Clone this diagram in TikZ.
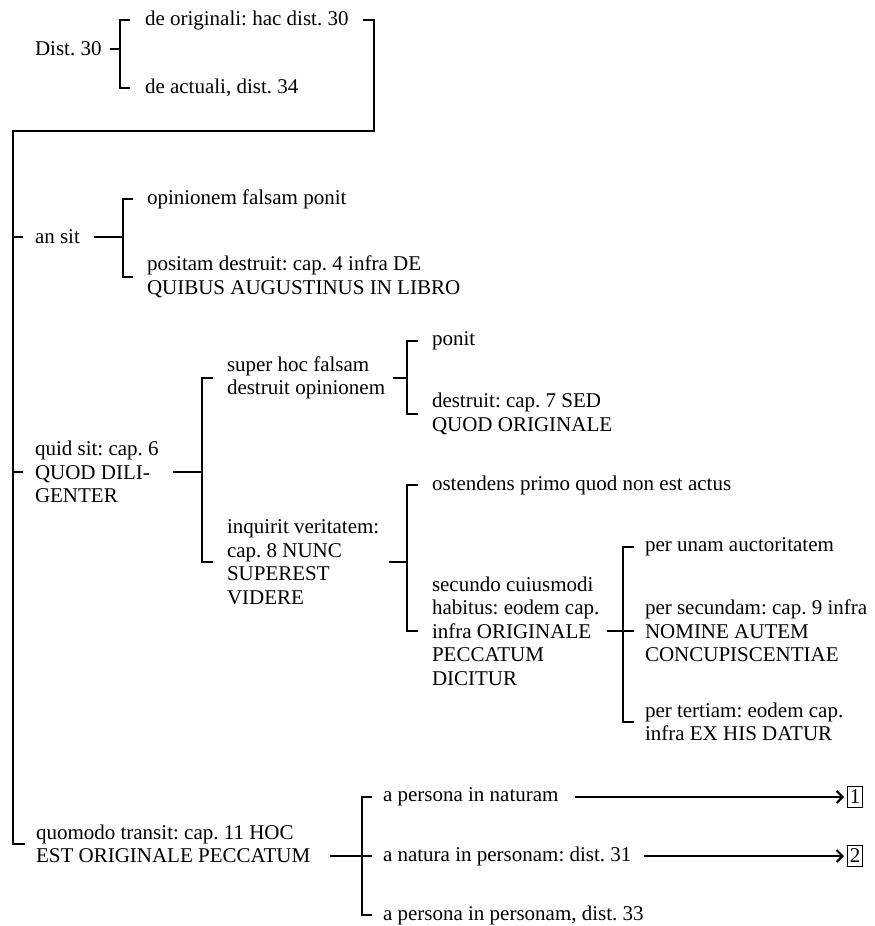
\documentclass[tikz,border=0pt]{standalone}
\usepackage{fontspec}
\setmainfont{Liberation Serif}
\usetikzlibrary{arrows.meta,calc}
\newcommand\fs{\fontsize{21}{23.5}\selectfont\frenchspacing}
\tikzset{
  lbl/.style={anchor=west, inner sep=0pt, outer sep=0pt, align=left, font=\fs},
  ln/.style={line width=1.2pt},
  numbox/.style={draw, line width=1pt, inner sep=2pt, minimum width=15pt, minimum height=21pt, font=\fs},
  arr/.style={ln, -{Straight Barb[length=6pt,width=12pt,line width=2pt]}}
}
\begin{document}
\begin{tikzpicture}[x=1pt,y=-1pt]
\useasboundingbox (0,0) rectangle (875,926);
% nodes
\node[lbl] (dist) at (35,49) {Dist. 30};
\node[lbl] (o1) at (145,20) {de originali: hac dist. 30};
\node[lbl] (o2) at (145,88) {de actuali, dist. 34};
\node[lbl] (ansit) at (35,237) {an sit};
\node[lbl] (op) at (147,199) {opinionem falsam ponit};
\node[lbl] (pos) at (147,277) {positam destruit: cap. 4 infra DE\\QUIBUS AUGUSTINUS IN LIBRO};
\node[lbl] (quid) at (35,472) {quid sit: cap. 6\\QUOD DILI-\\GENTER};
\node[lbl] (sup) at (227,378) {super hoc falsam\\destruit opinionem};
\node[lbl] (inq) at (227,562) {inquirit veritatem:\\cap. 8 NUNC\\SUPEREST\\VIDERE};
\node[lbl] (ponit) at (432,341) {ponit};
\node[lbl] (destr) at (432,414) {destruit: cap. 7 SED\\QUOD ORIGINALE};
\node[lbl] (ost) at (432,485) {ostendens primo quod non est actus};
\node[lbl] (sec) at (432,631) {secundo cuiusmodi\\habitus: eodem cap.\\infra ORIGINALE\\PECCATUM\\DICITUR};
\node[lbl] (unam) at (645,547) {per unam auctoritatem};
\node[lbl] (secd) at (645,631) {per secundam: cap. 9 infra\\NOMINE AUTEM\\CONCUPISCENTIAE};
\node[lbl] (tert) at (645,722) {per tertiam: eodem cap.\\infra EX HIS DATUR};
\node[lbl] (quo) at (36,844) {quomodo transit: cap. 11 HOC\\EST ORIGINALE PECCATUM};
\node[lbl] (pn) at (383,797) {a persona in naturam};
\node[lbl] (np) at (383,856) {a natura in personam: dist. 31};
\node[lbl] (pp) at (383,915) {a persona in personam, dist. 33};
\node[numbox] (b1) at (855,797) {1};
\node[numbox] (b2) at (855,856) {2};
% spine
\coordinate (tr) at (374,20);
\coordinate (sp) at (13,131);
\draw[ln] ($(o1.east)+(14,0)$) -- (tr) |- (sp) -- (sp |- quo.west) -- ($(quo.west)+(-11,0)$);
\draw[ln] (sp |- ansit.west) -- ($(ansit.west)+(-12,0)$);
\draw[ln] (sp |- quid.west) -- ($(quid.west)+(-12,0)$);
% bracket A
\draw[ln] ($(o1.west)+(-15,0)$) -- ($(o1.west)+(-25,0)$) -- ($(o2.west)+(-25,0)$) -- ($(o2.west)+(-15,0)$);
\draw[ln] ($(dist.east)+(8,0)$) -- ($(o1.west |- dist.east)+(-25,0)$);
% bracket B
\draw[ln] ($(op.west)+(-14,0)$) -- ($(op.west)+(-24,0)$) -- ($(pos.west)+(-24,0)$) -- ($(pos.west)+(-14,0)$);
\draw[ln] ($(ansit.east)+(14,0)$) -- ($(op.west |- ansit.east)+(-24,0)$);
% bracket C
\draw[ln] ($(sup.west)+(-14,0)$) -- ($(sup.west)+(-25,0)$) -- ($(inq.west)+(-25,0)$) -- ($(inq.west)+(-14,0)$);
\draw[ln] ($(quid.east)+(14,0)$) -- ($(sup.west |- quid.east)+(-25,0)$);
% bracket F
\draw[ln] ($(ponit.west)+(-14,0)$) -- ($(ponit.west)+(-25,0)$) -- ($(destr.west)+(-25,0)$) -- ($(destr.west)+(-14,0)$);
\draw[ln] ($(sup.east)+(8,0)$) -- ($(ponit.west |- sup.east)+(-25,0)$);
% bracket D
\draw[ln] ($(ost.west)+(-14,0)$) -- ($(ost.west)+(-25,0)$) -- ($(sec.west)+(-25,0)$) -- ($(sec.west)+(-14,0)$);
\draw[ln] ($(inq.east)+(10,0)$) -- ($(ost.west |- inq.east)+(-25,0)$);
% bracket E
\draw[ln] ($(unam.west)+(-11,0)$) -- ($(unam.west)+(-22,0)$) -- ($(tert.west)+(-22,0)$) -- ($(tert.west)+(-11,0)$);
\draw[ln] ($(sec.east)+(8,0)$) -- ($(secd.west)+(-11,0)$);
% bracket G
\draw[ln] ($(pn.west)+(-11,0)$) -- ($(pn.west)+(-21,0)$) -- ($(pp.west)+(-21,0)$) -- ($(pp.west)+(-11,0)$);
\draw[ln] ($(quo.east |- np.west)+(20,0)$) -- ($(np.west)+(-11,0)$);
% arrows
\draw[arr] ($(pn.east)+(16,0)$) -- ($(b1.west |- pn.east)+(-3,0)$);
\draw[arr] ($(np.east)+(13,0)$) -- ($(b2.west |- np.east)+(-3,0)$);
\end{tikzpicture}
\end{document}
